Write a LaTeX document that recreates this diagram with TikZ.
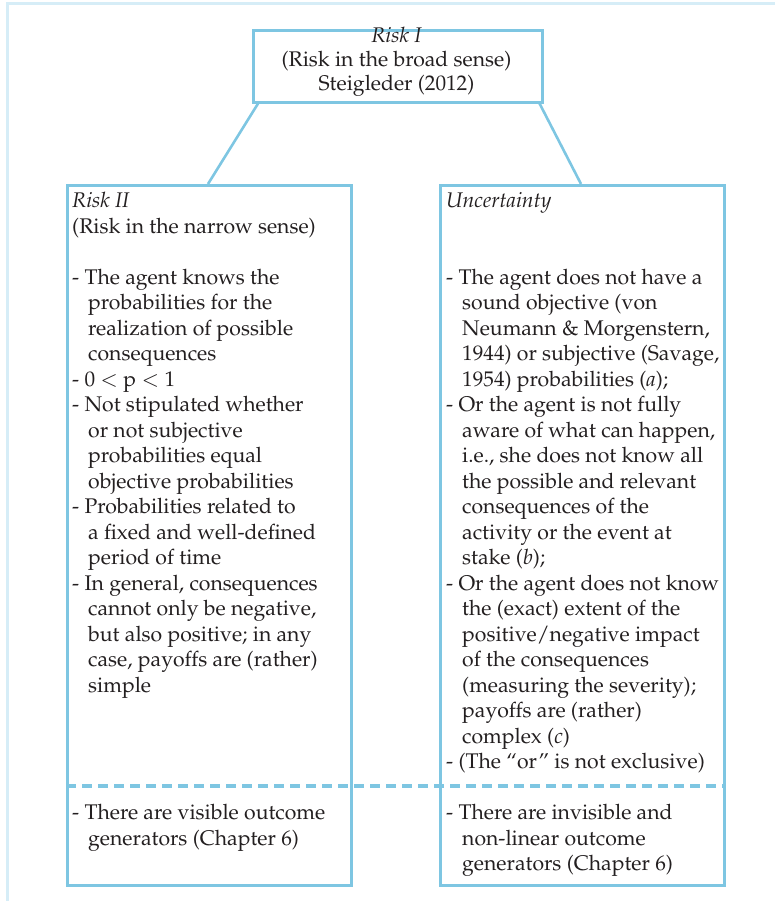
\documentclass[tikz,border=0pt]{standalone}
\usepackage[T1]{fontenc}
\usepackage{mathpazo}
\definecolor{boxblue}{RGB}{126,198,226}
\definecolor{frameblue}{RGB}{214,237,247}
\definecolor{inkgray}{RGB}{35,31,32}
\newcommand{\bodyfont}{\fontsize{21.2}{25.5}\selectfont}
\newcommand{\ci}{\hspace*{16pt}}
\begin{document}
\begin{tikzpicture}[x=1pt,y=-1pt,
  box/.style={draw=boxblue, line width=2.6pt, inner sep=0pt, anchor=north west},
  txt/.style={anchor=north west, inner sep=0pt, align=left, text=inkgray, font=\bodyfont},
  link/.style={draw=boxblue, line width=2.6pt},
  sep/.style={draw=boxblue, line width=3.2pt, dash pattern=on 10pt off 6pt}
]
\useasboundingbox (0,0) rectangle (775,901);
\draw[frameblue, line width=3pt] (7,901) -- (7,4) -- (775,4);

\node[box, minimum width=289pt, minimum height=72pt] (top) at (252,29) {};
\node[box, minimum width=284pt, minimum height=700pt] (left) at (66,184) {};
\node[box, minimum width=284pt, minimum height=700pt] (right) at (439,184) {};

\node[anchor=north, inner sep=0pt, align=center, text=inkgray, font={\fontsize{21.2}{24.2}\selectfont}] (toptext) at (396.5,27) {\textit{Risk I}\\(Risk in the broad sense)\\Steigleder (2012)};

\draw[link] ([xshift=6pt]top.south west) -- ([xshift=142pt]left.north west);
\draw[link] ([xshift=-4pt]top.south east) -- ([xshift=142pt]right.north west);

\draw[sep] (left.west |- 0,786) coordinate (d1) -- (right.east |- 0,786) coordinate (d2);

\node[txt] (lefttext) at (72,192) {\textit{Risk II}\\(Risk in the narrow sense)\\[25.5pt]
- The agent knows the\\
\ci probabilities for the\\
\ci realization of possible\\
\ci consequences\\
- 0 $<$ p $<$ 1\\
- Not stipulated whether\\
\ci or not subjective\\
\ci probabilities equal\\
\ci objective probabilities\\
- Probabilities related to\\
\ci a fixed and well-defined\\
\ci period of time\\
- In general, consequences\\
\ci cannot only be negative,\\
\ci but also positive; in any\\
\ci case, payoffs are (rather)\\
\ci simple};

\node[txt] (righttext) at (446,192) {\textit{Uncertainty}\\[51pt]
- The agent does not have a\\
\ci sound objective (von\\
\ci Neumann \& Morgenstern,\\
\ci 1944) or subjective (Savage,\\
\ci 1954) probabilities (\textit{a});\\
- Or the agent is not fully\\
\ci aware of what can happen,\\
\ci i.e., she does not know all\\
\ci the possible and relevant\\
\ci consequences of the\\
\ci activity or the event at\\
\ci stake (\textit{b});\\
- Or the agent does not know\\
\ci the (exact) extent of the\\
\ci positive/negative impact\\
\ci of the consequences\\
\ci (measuring the severity);\\
\ci payoffs are (rather)\\
\ci complex (\textit{c})\\
- (The ``or'' is not exclusive)};

\node[txt] (leftbottom) at (72,804) {- There are visible outcome\\
\ci generators (Chapter 6)};
\node[txt] (rightbottom) at (446,804) {- There are invisible and\\
\ci non-linear outcome\\
\ci generators (Chapter 6)};
\end{tikzpicture}
\end{document}
